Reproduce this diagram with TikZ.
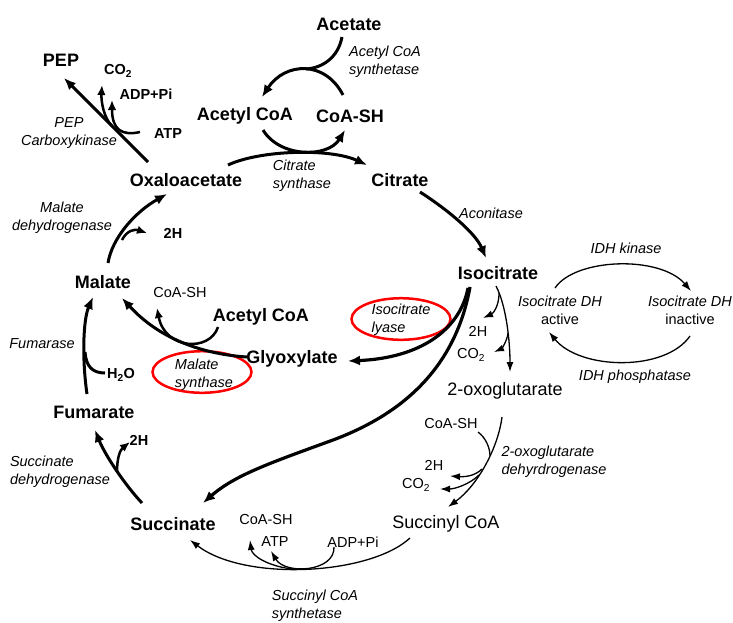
\documentclass[tikz,border=0pt]{standalone}
\usepackage{fontspec}
\setmainfont{Liberation Sans}
\usetikzlibrary{arrows.meta}

\begin{document}
\begin{tikzpicture}[x=1pt,y=-1pt,
	met_node/.style={font=\fontsize{18}{20}\selectfont\bfseries,inner sep=1pt},
	plain_node/.style={font=\fontsize{18}{20}\selectfont,inner sep=1pt},
	side_node/.style={font=\fontsize{14.5}{18}\selectfont,inner sep=1pt},
	side_bold/.style={font=\fontsize{14.5}{18}\selectfont\bfseries,inner sep=1pt},
	enz_node/.style={font=\fontsize{14.5}{18}\selectfont\itshape,align=center,inner sep=1pt},
	thick_line/.style={line width=3pt},
	thick_arr/.style={line width=3pt,-{Latex[length=12pt,width=10pt]}},
	mid_arr/.style={line width=2.5pt,-{Latex[length=10pt,width=8.5pt]}},
	thin_line/.style={line width=1.3pt},
	thin_arr/.style={line width=1.3pt,-{Latex[length=10pt,width=7pt]}},
	red_ring/.style={draw=red,line width=2.5pt}]

	\useasboundingbox (0,0) rectangle (733,622);

	% metabolites
	\node[met_node] (acetate) at (349,24) {Acetate};
	\node[met_node] (acoa_top) at (245,116) {Acetyl CoA};
	\node[met_node] (coash_top) at (350,116) {CoA-SH};
	\node[met_node] (pep) at (61,60) {PEP};
	\node[met_node] (oaa) at (186,180) {Oxaloacetate};
	\node[met_node] (citrate) at (400,180) {Citrate};
	\node[met_node] (isocit) at (498,273) {Isocitrate};
	\node[plain_node] (oxoglu) at (505,391) {2-oxoglutarate};
	\node[plain_node] (succoa) at (446,524) {Succinyl CoA};
	\node[met_node] (succ) at (173,524) {Succinate};
	\node[met_node] (fum) at (94,412) {Fumarate};
	\node[met_node] (malate) at (103,282) {Malate};
	\node[met_node] (glyox) at (292,359) {Glyoxylate};
	\node[met_node] (acoa_mid) at (261,317) {Acetyl CoA};

	% side products
	\node[side_bold] (co2_pep) at (118,71) {CO\textsubscript{2}};
	\node[side_bold] (adp_pep) at (146,94) {ADP+Pi};
	\node[side_bold] (atp_pep) at (168,134) {ATP};
	\node[side_bold] (h_mdh) at (173,233) {2H};
	\node[side_node] (coash_ms) at (180,292) {CoA-SH};
	\node[side_bold] (h2o) at (121,375) {H\textsubscript{2}O};
	\node[side_bold] (h_sdh) at (139,440) {2H};
	\node[side_node] (h_icdh) at (478,331) {2H};
	\node[side_node] (co2_icdh) at (471,355) {CO\textsubscript{2}};
	\node[side_node] (coash_ogdh) at (451,423) {CoA-SH};
	\node[side_node] (h_ogdh) at (434,465) {2H};
	\node[side_node] (co2_ogdh) at (416,485) {CO\textsubscript{2}};
	\node[side_node] (coash_scs) at (266,519) {CoA-SH};
	\node[side_node] (atp_scs) at (275,542) {ATP};
	\node[side_node] (adp_scs) at (353,542) {ADP+Pi};

	% enzymes
	\node[enz_node,align=left] (acs) at (385,62) {Acetyl CoA\\synthetase};
	\node[enz_node] (pepck) at (69,133) {PEP\\Carboxykinase};
	\node[enz_node,align=left] (cs) at (302,176) {Citrate\\synthase};
	\node[enz_node] (mdh) at (62,218) {Malate\\dehydrogenase};
	\node[enz_node] (aconitase) at (491,213) {Aconitase};
	\node[enz_node] (fumarase) at (42,344) {Fumarase};
	\node[enz_node,align=left] (sdh) at (60,472) {Succinate\\dehydrogenase};
	\node[enz_node,align=left] (ogdh) at (554,462) {2-oxoglutarate\\dehyrdrogenase};
	\node[enz_node,align=left] (scs) at (315,606) {Succinyl CoA\\synthetase};
	\node[enz_node] (idh_kin) at (626,248) {IDH kinase};
	\node[enz_node] (idh_pho) at (635,377) {IDH phosphatase};
	\node[side_node,align=center] (icdh_on) at (560,310) {\textit{Isocitrate DH}\\active};
	\node[side_node,align=center] (icdh_off) at (690,310) {\textit{Isocitrate DH}\\inactive};
	\node[enz_node,align=left] (lyase) at (401,320) {Isocitrate\\lyase};
	\node[enz_node,align=left] (ms) at (204,375) {Malate\\synthase};

	\draw[red_ring] (401,319) ellipse [x radius=49.5pt,y radius=20.8pt];
	\draw[red_ring] (202,372) ellipse [x radius=49.5pt,y radius=20.8pt];

	% connector ends
	\coordinate (acetate_out) at (342,37);
	\coordinate (acs_top) at (306,69);
	\coordinate (coash_top_in) at (343,95);
	\coordinate (acoa_top_in) at (262,97);
	\coordinate (acoa_top_out) at (263,130);
	\coordinate (coash_top_out) at (345,130);
	\coordinate (oaa_out) at (228,165);
	\coordinate (citrate_in) at (367,165);
	\coordinate (citrate_out) at (420,192);
	\coordinate (isocit_in) at (486,258);
	\coordinate (oaa_pep) at (148,162);
	\coordinate (pep_in) at (64,78);
	\coordinate (pepck_co2) at (112,126);
	\coordinate (co2_pep_in) at (102,85);
	\coordinate (atp_pep_out) at (140,132);
	\coordinate (adp_pep_in) at (112,100);
	\coordinate (malate_out) at (108,263);
	\coordinate (oaa_in) at (167,194);
	\coordinate (mdh_h) at (122,240);
	\coordinate (h_mdh_in) at (147,233);
	\coordinate (fum_out) at (87,394);
	\coordinate (malate_in) at (93,297);
	\coordinate (h2o_out) at (105,373);
	\coordinate (fum_h2o) at (85,352);
	\coordinate (succ_out) at (142,503);
	\coordinate (fum_in) at (95,430);
	\coordinate (sdh_h) at (117,472);
	\coordinate (h_sdh_in) at (130,442);
	\coordinate (glyox_out) at (247,357);
	\coordinate (malate_ms) at (122,298);
	\coordinate (acoa_mid_out) at (218,327);
	\coordinate (coash_ms_in) at (157,308);
	\coordinate (isocit_out) at (468,288);
	\coordinate (glyox_in) at (348,361);
	\coordinate (isocit_bypass) at (470,287);
	\coordinate (succ_in) at (203,503);
	\coordinate (isocit_down) at (496,286);
	\coordinate (oxoglu_in) at (510,372);
	\coordinate (icdh_h) at (499,293);
	\coordinate (h_icdh_in) at (483,318);
	\coordinate (icdh_co2) at (508,333);
	\coordinate (co2_icdh_in) at (494,352);
	\coordinate (oxoglu_out) at (502,417);
	\coordinate (succoa_in) at (448,507);
	\coordinate (coash_ogdh_out) at (478,432);
	\coordinate (ogdh_coa) at (490,456);
	\coordinate (ogdh_h) at (482,469);
	\coordinate (h_ogdh_in) at (450,476);
	\coordinate (ogdh_co2) at (479,475);
	\coordinate (co2_ogdh_in) at (440,489);
	\coordinate (succoa_out) at (410,538);
	\coordinate (succ_scs) at (190,540);
	\coordinate (scs_coa) at (292,569);
	\coordinate (coash_scs_in) at (250,540);
	\coordinate (adp_scs_out) at (334,547);
	\coordinate (atp_scs_in) at (271,551);
	\coordinate (on_out) at (555,288);
	\coordinate (off_in) at (691,291);
	\coordinate (off_out) at (690,336);
	\coordinate (on_in) at (549,332);

	% acetate activation and citrate synthase
	\draw[thick_line] (acetate_out) .. controls (338,58) and (322,68) .. (acs_top);
	\draw[thick_arr] (coash_top_in) .. controls (325,60) and (285,62) .. (acoa_top_in);
	\draw[thick_arr] (acoa_top_out) .. controls (280,158) and (328,158) .. (coash_top_out);
	\draw[thick_arr] (oaa_out) .. controls (260,150) and (330,148) .. (citrate_in);
	\draw[thick_arr] (citrate_out) .. controls (445,208) and (475,232) .. (isocit_in);

	% PEP carboxykinase
	\draw[thick_arr] (oaa_pep) -- (pep_in);
	\draw[mid_arr] (pepck_co2) .. controls (104,118) and (101,102) .. (co2_pep_in);
	\draw[mid_arr] (atp_pep_out) .. controls (122,136) and (112,130) .. (adp_pep_in);

	% malate dehydrogenase, fumarase, succinate dehydrogenase
	\draw[thick_arr] (malate_out) .. controls (112,238) and (135,212) .. (oaa_in);
	\draw[mid_arr] (mdh_h) .. controls (127,230) and (135,229) .. (h_mdh_in);
	\draw[thick_arr] (fum_out) .. controls (82,360) and (83,320) .. (malate_in);
	\draw[thick_line] (h2o_out) .. controls (92,373) and (86,366) .. (fum_h2o);
	\draw[thick_arr] (succ_out) .. controls (125,485) and (105,455) .. (fum_in);
	\draw[mid_arr] (sdh_h) .. controls (117,458) and (120,450) .. (h_sdh_in);

	% glyoxylate shunt
	\draw[thick_arr] (glyox_out) .. controls (215,355) and (165,345) .. (malate_ms);
	\draw[mid_arr] (acoa_mid_out) .. controls (210,352) and (165,350) .. (coash_ms_in);
	\draw[line width=3.2pt,-{Latex[length=12pt,width=10pt]}] (isocit_out) .. controls (460,330) and (420,358) .. (glyox_in);
	\draw[line width=3.2pt,-{Latex[length=12pt,width=10pt]}] (isocit_bypass) .. controls (455,370) and (400,415) .. (333,440) .. controls (270,463) and (235,475) .. (succ_in);

	% isocitrate dehydrogenase
	\draw[thin_arr] (isocit_down) .. controls (506,305) and (510,340) .. (oxoglu_in);
	\draw[thin_arr] (icdh_h) .. controls (499,308) and (492,314) .. (h_icdh_in);
	\draw[thin_arr] (icdh_co2) .. controls (507,342) and (501,349) .. (co2_icdh_in);

	% 2-oxoglutarate dehydrogenase
	\draw[thin_arr] (oxoglu_out) .. controls (498,448) and (478,485) .. (succoa_in);
	\draw[thin_line] (coash_ogdh_out) .. controls (486,438) and (490,448) .. (ogdh_coa);
	\draw[thin_arr] (ogdh_h) .. controls (475,476) and (465,477) .. (h_ogdh_in);
	\draw[thin_arr] (ogdh_co2) .. controls (470,484) and (455,489) .. (co2_ogdh_in);

	% succinyl CoA synthetase
	\draw[thin_arr] (succoa_out) .. controls (370,575) and (245,582) .. (succ_scs);
	\draw[thin_arr] (scs_coa) .. controls (268,566) and (252,556) .. (coash_scs_in);
	\draw[thin_arr] (adp_scs_out) .. controls (335,572) and (285,575) .. (atp_scs_in);

	% IDH regulation
	\draw[thin_arr] (on_out) .. controls (575,258) and (660,255) .. (off_in);
	\draw[thin_arr] (off_out) .. controls (665,372) and (580,370) .. (on_in);
\end{tikzpicture}
\end{document}
